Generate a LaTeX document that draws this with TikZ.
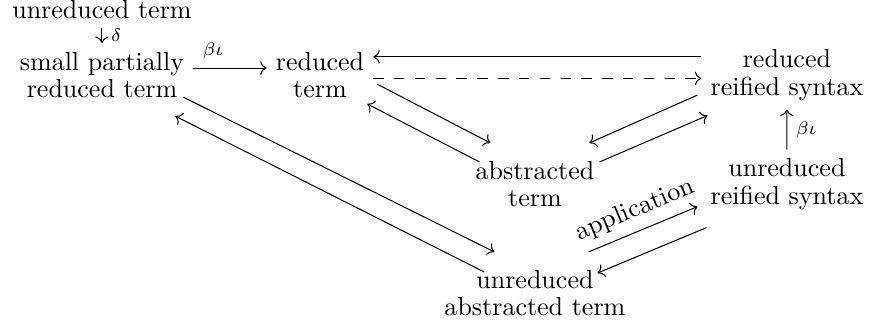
\documentclass[tikz,border=0pt]{standalone}
\usepackage{amsmath, amssymb}
\usepackage{tikz}
\usetikzlibrary{arrows.meta, positioning, calc}

\begin{document}
\begin{tikzpicture}[
    on grid,
    term/.style={align=center, font=\fontsize{10pt}{10.5pt}\selectfont},
    arrow/.style={-{Computer Modern Rightarrow}},
    dasharrow/.style={-{Computer Modern Rightarrow}, dash pattern=on 4pt off 4pt},
    lbl/.style={font=\scriptsize}
]
\useasboundingbox (0,0) rectangle (11.757,-4.405);
\node[term] (sprt) at (1.378,-1.014) {small partially\\reduced term};
\node[term, above=0.88cm of sprt] (ut) {unreduced term};
\node[term, right=2.946cm of sprt] (rt) {reduced\\term};
\node[term, below right=1.473cm and 2.905cm of rt] (at) {abstracted\\term};
\node[term, right=6.31cm of rt] (rrs) {reduced\\reified syntax};
\node[term, right=3.405cm of at] (urs) {unreduced\\reified syntax};
\node[term, below=1.473cm of at] (uat) {unreduced\\abstracted term};
% top row
\draw[arrow] (ut.south) -- node[lbl, right] {$\delta$} (ut.south |- sprt.north);
\draw[arrow] ([yshift=2.7pt]sprt.east) -- node[lbl, above, pos=0.27] {$\beta\iota$} ([yshift=2.7pt]rt.west);
\draw[arrow] ([yshift=7pt]rrs.west) -- ([yshift=7pt]rt.east);
\draw[dasharrow] ([yshift=-1.3pt]rt.east) -- ([yshift=-1.3pt]rrs.west);
% abstraction pairs
\draw[arrow] ([shift={(1.5pt,-3.5pt)}]rt.east) -- ([shift={(9.2pt,3.5pt)}]at.north west);
\draw[arrow] ([shift={(5pt,-3.8pt)}]at.north west) -- ([shift={(-2.3pt,1.2pt)}]rt.south east);
\draw[arrow] ([shift={(-1.5pt,-7.7pt)}]rrs.west) -- ([shift={(-5.4pt,3.5pt)}]at.north east);
\draw[arrow] ([shift={(-1.5pt,-3.8pt)}]at.north east) -- ([shift={(2.3pt,-2.3pt)}]rrs.south west);
\draw[arrow] ([shift={(-3.8pt,3.8pt)}]sprt.south east) -- ([shift={(22.7pt,3.5pt)}]uat.north west);
\draw[arrow] ([shift={(18.8pt,-4.2pt)}]uat.north west) -- ([shift={(-6.9pt,-3.5pt)}]sprt.south east);
% application and reduction
\draw[arrow] ([shift={(-17.7pt,3.5pt)}]uat.north east) -- node[sloped, above] {application} ([shift={(-1.5pt,4.6pt)}]urs.south west);
\draw[arrow] ([shift={(1.9pt,-3.5pt)}]urs.south west) -- ([shift={(-14.2pt,-4.6pt)}]uat.north east);
\draw[arrow] (urs.north) -- node[lbl, right] {$\beta\iota$} (rrs.south);
\end{tikzpicture}
\end{document}
